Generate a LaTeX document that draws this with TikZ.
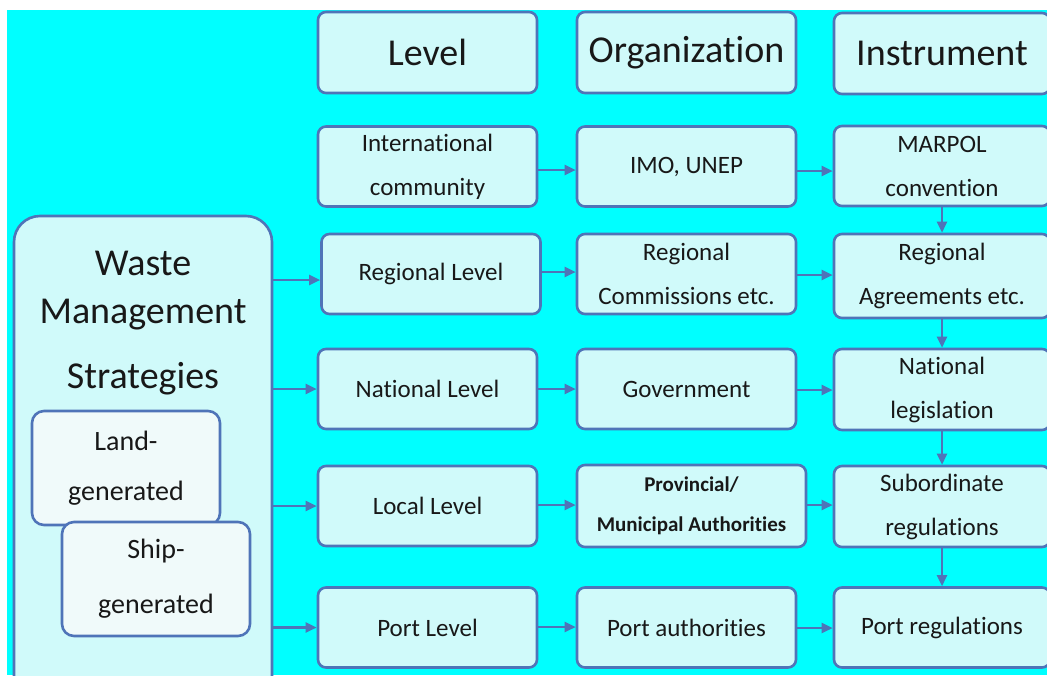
\documentclass[tikz,border=0pt]{standalone}
\usepackage{fontspec}
\setmainfont{Carlito}[Ligatures=NoCommon]
\usetikzlibrary{arrows.meta}
\definecolor{bgcyan}{RGB}{0,255,255}
\definecolor{edge}{RGB}{79,116,184}
\definecolor{boxfill}{RGB}{208,250,250}
\definecolor{subfill}{RGB}{240,250,250}
\definecolor{ink}{RGB}{24,24,24}
\begin{document}
\begin{tikzpicture}[x=1pt,y=-1pt,
  box/.style={draw=edge, line width=2.6pt, fill=boxfill, rounded corners=8pt,
    minimum width=219pt, minimum height=80pt, inner sep=0pt, text=ink,
    align=center, font=\fontsize{25}{44}\selectfont},
  wide/.style={minimum width=216pt},
  head/.style={box, minimum height=81pt, font=\fontsize{38}{44}\selectfont},
  subbox/.style={draw=edge, line width=2.6pt, fill=subfill, rounded corners=12pt,
    minimum width=188pt, minimum height=114pt, inner sep=0pt, text=ink,
    align=center},
  bigtext/.style={anchor=base, text=ink, inner sep=0pt, font=\fontsize{38}{44}\selectfont},
  link/.style={draw=edge, line width=2.4pt, -{Triangle[length=11pt,width=10pt]}},
]
\useasboundingbox (0,0) rectangle (1047,675);
\clip (0,0) rectangle (1047,675);
\fill[white] (0,0) rectangle (1047,675);
\fill[bgcyan] (7,10) rectangle (1047,675);

% column headings
\node[head] (hLevel) at (427.5,52.5) {Level};
\node[head] (hOrg) at (686.5,52.5) {Organization};
\node[head, wide] (hInst) at (942,53.5) {Instrument};

% international row
\node[box] (intl) at (427.5,166.5) {International\\community};
\node[box] (imo) at (686.5,166.5) {IMO, UNEP};
\node[box, wide] (marpol) at (942,166) {MARPOL\\convention};

% regional row
\node[box] (reg) at (431,274) {Regional Level};
\node[box] (regc) at (686.5,274) {Regional\\Commissions etc.};
\node[box, wide, minimum height=84pt] (rega) at (942,276) {Regional\\Agreements etc.};

% national row
\node[box] (nat) at (427.5,389) {National Level};
\node[box] (gov) at (686.5,389) {Government};
\node[box, wide, minimum height=81pt] (natl) at (942,389.5) {National\\legislation};

% local row
\node[box] (loc) at (427.5,506) {Local Level};
\node[box, minimum width=229pt, minimum height=82pt, font=\fontsize{21}{40}\selectfont\bfseries]
  (prov) at (691.5,506) {Provincial/\\Municipal Authorities};
\node[box, wide, minimum height=81pt] (sub) at (942,506.5) {Subordinate\\regulations};

% port row
\node[box] (port) at (427.5,627.5) {Port Level};
\node[box] (porta) at (686.5,627.5) {Port authorities};
\node[box, wide] (portr) at (942,627.5) {Port regulations};

% strategies block
\node[draw=edge, line width=2.6pt, fill=boxfill, rounded corners=26pt,
  minimum width=258pt, minimum height=504pt, inner sep=0pt] (waste) at (143,468) {};
\node[bigtext] (wasteA) at (143,275) {Waste};
\node[bigtext] (wasteB) at (143,323) {Management};
\node[bigtext] (wasteC) at (143,388) {Strategies};
\node[subbox, font=\fontsize{28}{50}\selectfont] (land) at (126,468) {Land-\\generated};
\node[subbox, font=\fontsize{28}{55}\selectfont] (ship) at (156,579) {Ship-\\generated};

% links from the strategies block
\draw[link] (waste.east |- 0,280) -- (reg.west |- 0,280);
\draw[link] (waste.east |- nat.west) -- (nat.west);
\draw[link] (waste.east |- loc.west) -- (loc.west);
\draw[link] (waste.east |- port.west) -- (port.west);

% links across the rows
\draw[link] (intl.east |- 0,170) -- (imo.west |- 0,170);
\draw[link] (imo.east |- 0,171) -- (marpol.west |- 0,171);
\draw[link] (reg.east |- 0,272) -- (regc.west |- 0,272);
\draw[link] (regc.east |- 0,275) -- (rega.west |- 0,275);
\draw[link] (nat.east) -- (gov.west);
\draw[link] (gov.east |- 0,390) -- (natl.west |- 0,390);
\draw[link] (loc.east |- 0,505) -- (prov.west |- 0,505);
\draw[link] (prov.east |- 0,505) -- (sub.west |- 0,505);
\draw[link] (port.east |- 0,627) -- (porta.west |- 0,627);
\draw[link] (porta.east |- 0,628) -- (portr.west |- 0,628);

% links down the instrument column
\draw[link] (marpol.south) -- (rega.north);
\draw[link] (rega.south) -- (natl.north);
\draw[link] (natl.south) -- (sub.north);
\draw[link] (sub.south) -- (portr.north);
\end{tikzpicture}
\end{document}
